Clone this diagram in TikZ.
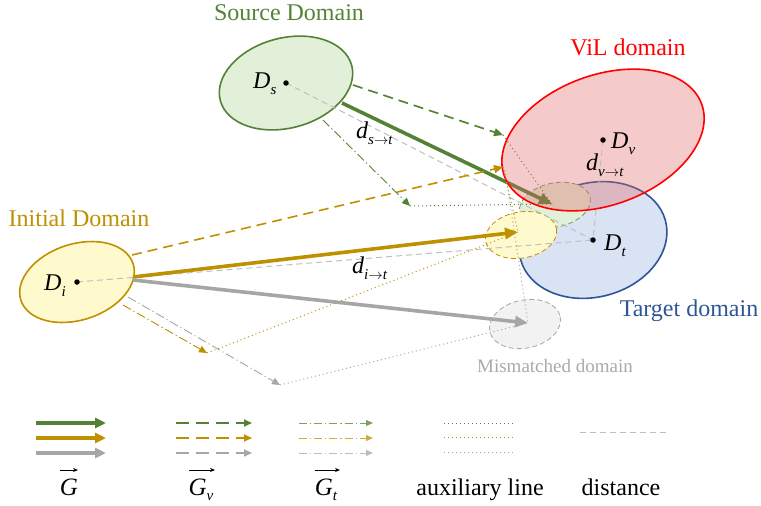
\documentclass[tikz,border=0pt]{standalone}
\usepackage{fontspec}
\setmainfont{Liberation Serif}
\usetikzlibrary{arrows.meta}

\definecolor{cgreen}{HTML}{548235}
\definecolor{cgold}{HTML}{BF9000}
\definecolor{cgrey}{HTML}{A6A6A6}
\definecolor{cred}{HTML}{FF0000}
\definecolor{cblue}{HTML}{2F5597}
\definecolor{srcfill}{HTML}{E2F0D9}
\definecolor{vilfill}{HTML}{E06666}
\definecolor{tgtfill}{HTML}{DAE3F3}
\definecolor{inifill}{HTML}{FFFACD}
\definecolor{misfill}{HTML}{F2F2F2}
\definecolor{distgrey}{HTML}{BFBFBF}
\definecolor{mistext}{HTML}{AAAAAA}

% label with a lowered subscript
\newcommand\msub[2]{#1\raisebox{-6.5pt}{\fontsize{15}{15}\selectfont #2}}
\newcommand\tto{\textup{$\rightarrow$}}

\tikzset{
  dom/.style={line width=1.6pt},
  smalldom/.style={line width=0.8pt, dash pattern=on 5pt off 3pt},
  garrow/.style={line width=3.6pt, -{Triangle[length=13pt,width=11pt]}},
  varrow/.style={line width=1.6pt, dash pattern=on 10pt off 6pt, -{Triangle[length=9pt,width=8pt]}},
  tarrow/.style={line width=0.9pt, dash pattern=on 9pt off 3pt on 1.2pt off 3pt, -{Triangle[length=8pt,width=7pt]}},
  aux/.style={line width=1pt, dash pattern=on 1pt off 3pt},
  dist/.style={draw=distgrey, line width=1pt, dash pattern=on 6pt off 4pt},
  lab/.style={font=\fontsize{24}{28}\selectfont, inner sep=0pt, anchor=base},
  mlab/.style={font=\fontsize{24}{28}\selectfont\itshape, inner sep=0pt, anchor=base west},
  cdot/.style={circle, fill=black, inner sep=0pt, minimum size=5.5pt},
  vecbar/.style={line width=0.7pt, -{Stealth[length=5pt,width=4pt]}},
}

\begin{document}
\begin{tikzpicture}[x=1pt,y=-1pt]
\useasboundingbox (0,0) rectangle (761,506);

% domain centres
\coordinate (ds) at (286,83);
\coordinate (dv) at (603,140);
\coordinate (dt) at (593,240);
\coordinate (di) at (77,282);
\coordinate (cg) at (555,205);
\coordinate (cy) at (521,235);
\coordinate (ck) at (525,324);

% arrow start points on the domain borders
\coordinate (s1) at (342,103);
\coordinate (s2) at (353,85);
\coordinate (s3) at (323,120);
\coordinate (i1) at (133,277);
\coordinate (i2) at (133,280);
\coordinate (i3) at (132,255);
\coordinate (i4) at (123,305);
\coordinate (i5) at (128,297);

% arrow tips
\coordinate (gG) at (552,204);
\coordinate (gV) at (503,135);
\coordinate (gT) at (410,206);
\coordinate (yG) at (518,232);
\coordinate (yV) at (503,167);
\coordinate (yT) at (207,353);
\coordinate (kG) at (528,323);
\coordinate (kV) at (505,170);
\coordinate (kT) at (280,385);

% domains
\draw[dom, draw=cgreen, fill=srcfill, rotate around={15:(ds)}] (ds) ellipse [x radius=68, y radius=45];
\draw[dom, draw=cgold, fill=inifill, rotate around={18:(di)}] (di) ellipse [x radius=59, y radius=38];
\draw[dom, draw=cblue, fill=tgtfill, rotate around={15:(dt)}] (dt) ellipse [x radius=75, y radius=57];
\draw[smalldom, draw=cgreen!80, fill=srcfill, rotate around={12:(cg)}] (cg) ellipse [x radius=36, y radius=22];

% green vectors and helper lines lying under the ViL domain
\draw[aux, draw=cgreen] (gV) -- (gG);
\draw[aux, draw=cgreen] (gT) -- (gG);
\draw[garrow, draw=cgreen] (s1) -- (gG);

% ViL domain (translucent)
\fill[vilfill, fill opacity=0.35, rotate around={20:(dv)}] (dv) ellipse [x radius=105, y radius=65];
\draw[dom, draw=cred, rotate around={20:(dv)}] (dv) ellipse [x radius=105, y radius=65];

% shifted initial domain and mismatched domain
\draw[smalldom, draw=cgold, fill=inifill, rotate around={10:(cy)}] (cy) ellipse [x radius=36, y radius=23];
\draw[smalldom, draw=cgrey, fill=misfill, rotate around={12:(ck)}] (ck) ellipse [x radius=36, y radius=24];

% distances
\draw[dist] (ds) -- (dt);
\draw[dist] (di) -- (dt);
\draw[dist] (dv) -- (dt);

% helper lines
\draw[aux, draw=cgold] (yV) -- (yG);
\draw[aux, draw=cgold] (yT) -- (yG);
\draw[aux, draw=cgrey] (kV) -- (kG);
\draw[aux, draw=cgrey] (kT) -- (kG);

% G_v vectors
\draw[varrow, draw=cgreen] (s2) -- (gV);
\draw[varrow, draw=cgold] (i3) -- (yV);

% G_t vectors
\draw[tarrow, draw=cgreen] (s3) -- (gT);
\draw[tarrow, draw=cgold] (i4) -- (yT);
\draw[tarrow, draw=cgrey] (i5) -- (kT);

% G vectors
\draw[garrow, draw=cgold] (i1) -- (yG);
\draw[garrow, draw=cgrey] (i2) -- (kG);

% centres
\node[cdot] (pds) at (ds) {};
\node[cdot] (pdv) at (dv) {};
\node[cdot] (pdt) at (dt) {};
\node[cdot] (pdi) at (di) {};

% domain names
\node[lab, text=cgreen] (tsrc) at (289,20) {Source Domain};
\node[lab, text=cred] (tvil) at (628,56) {ViL domain};
\node[lab, text=cgold] (tini) at (79,226) {Initial Domain};
\node[lab, text=cblue] (ttgt) at (689,316) {Target domain};
\node[lab, text=mistext, font=\fontsize{19}{22}\selectfont] (tmis) at (555,372) {Mismatched domain};

% symbols
\node[mlab] (lds) at (253,88) {\msub{D}{s}};
\node[mlab] (ldv) at (611,148) {\msub{D}{v}};
\node[mlab] (ldt) at (604,250) {\msub{D}{t}};
\node[mlab] (ldi) at (44,290) {\msub{D}{i}};
\node[mlab] (lst) at (356,138) {\msub{d}{s\tto t}};
\node[mlab] (lvt) at (586,170) {\msub{d}{v\tto t}};
\node[mlab] (lit) at (352,273) {\msub{d}{i\tto t}};

% legend samples
\foreach \c/\y [count=\k] in {cgreen/423, cgold/438, cgrey/453} {
  \coordinate (a\k) at (36,\y);  \coordinate (b\k) at (106,\y);
  \draw[line width=3.6pt, draw=\c, -{Triangle[length=11pt,width=10pt]}] (a\k) -- (b\k);
  \coordinate (c\k) at (176,\y); \coordinate (e\k) at (252,\y);
  \draw[line width=1.7pt, draw=\c, dash pattern=on 13pt off 7pt, -{Triangle[length=8pt,width=7pt]}] (c\k) -- (e\k);
  \coordinate (f\k) at (299,\y); \coordinate (h\k) at (373,\y);
  \draw[line width=1pt, draw=\c!75, dash pattern=on 8pt off 3pt on 1.2pt off 3pt, -{Triangle[length=7pt,width=6pt]}] (f\k) -- (h\k);
}
\foreach \c/\y [count=\k] in {cgreen/423, cgold/437, cgrey/452} {
  \coordinate (p\k) at (444,\y); \coordinate (q\k) at (514,\y);
  \draw[aux, draw=\c] (p\k) -- (q\k);
}
\coordinate (r1) at (580,432); \coordinate (r2) at (669,432);
\draw[dist] (r1) -- (r2);

% legend captions
\node[lab, font=\fontsize{25}{28}\selectfont\itshape] (lg) at (69,495) {G};
\node[lab, font=\fontsize{25}{28}\selectfont\itshape] (lgv) at (201,495) {G\raisebox{-5pt}{\fontsize{15}{15}\selectfont v}};
\node[lab, font=\fontsize{25}{28}\selectfont\itshape] (lgt) at (326,495) {G\raisebox{-5pt}{\fontsize{15}{15}\selectfont t}};
\coordinate (v1a) at (60,470);  \coordinate (v1b) at (78,470);
\coordinate (v2a) at (189,470); \coordinate (v2b) at (215,470);
\coordinate (v3a) at (315,470); \coordinate (v3b) at (340,470);
\draw[vecbar] (v1a) -- (v1b);
\draw[vecbar] (v2a) -- (v2b);
\draw[vecbar] (v3a) -- (v3b);
\node[lab] (laux) at (480,495) {auxiliary line};
\node[lab] (ldist) at (621,495) {distance};
\end{tikzpicture}
\end{document}
